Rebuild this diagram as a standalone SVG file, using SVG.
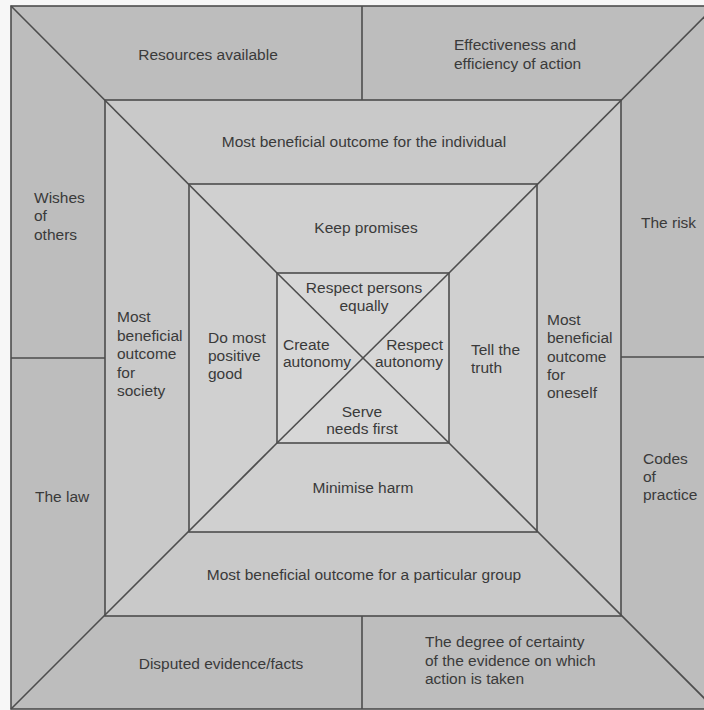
<svg xmlns="http://www.w3.org/2000/svg" width="704" height="710" viewBox="0 0 704 710">
<style>
.o{fill:#bdbdbd}
.m{fill:#c9c9c9}
.t{fill:#d0d0d0}
.i{fill:#d7d7d7}
text{font-family:"Liberation Sans",Arial,sans-serif;font-size:15.5px;fill:#3a3a3a}
.c{text-anchor:middle}
.r{text-anchor:end}
#lines line,#lines rect{stroke:#4d4d4d;stroke-width:1.6;fill:none}
</style>
<rect x="0" y="0" width="704" height="710" fill="#f7f7f7"/>
<g id="resources"><polygon class="o" points="11,6 362,6 362,100 105,100"/><text class="c" x="208" y="60">Resources available</text></g>
<g id="effectiveness"><polygon class="o" points="362,6 715,6 621,100 362,100"/><text x="454" y="50">Effectiveness and</text><text x="454" y="69">efficiency of action</text></g>
<g id="risk"><polygon class="o" points="715,6 715,357 621,357 621,100"/><text x="641" y="228">The risk</text></g>
<g id="codes"><polygon class="o" points="621,357 715,357 715,709 621,616"/><text x="643" y="464">Codes</text><text x="643" y="482">of</text><text x="643" y="500">practice</text></g>
<g id="certainty"><polygon class="o" points="362,616 621,616 715,709 362,709"/><text x="425" y="647">The degree of certainty</text><text x="425" y="666">of the evidence on which</text><text x="425" y="684">action is taken</text></g>
<g id="disputed"><polygon class="o" points="11,709 105,616 362,616 362,709"/><text class="c" x="221" y="669">Disputed evidence/facts</text></g>
<g id="law"><polygon class="o" points="11,358 105,358 105,616 11,709"/><text x="35" y="502">The law</text></g>
<g id="wishes"><polygon class="o" points="11,6 105,100 105,358 11,358"/><text x="34" y="203">Wishes</text><text x="34" y="221">of</text><text x="34" y="240">others</text></g>
<g id="individual"><polygon class="m" points="105,100 621,100 537,184 189,184"/><text class="c" x="364" y="147">Most beneficial outcome for the individual</text></g>
<g id="oneself"><polygon class="m" points="621,100 621,616 537,532 537,184"/><text x="547" y="325">Most</text><text x="547" y="343">beneficial</text><text x="547" y="362">outcome</text><text x="547" y="380">for</text><text x="547" y="398">oneself</text></g>
<g id="group"><polygon class="m" points="105,616 189,532 537,532 621,616"/><text class="c" x="364" y="580">Most beneficial outcome for a particular group</text></g>
<g id="society"><polygon class="m" points="105,100 189,184 189,532 105,616"/><text x="117" y="322">Most</text><text x="117" y="341">beneficial</text><text x="117" y="359">outcome</text><text x="117" y="378">for</text><text x="117" y="396">society</text></g>
<g id="promises"><polygon class="t" points="189,184 537,184 449,273 277,273"/><text class="c" x="366" y="233">Keep promises</text></g>
<g id="truth"><polygon class="t" points="537,184 537,532 449,443 449,273"/><text x="471" y="355">Tell the</text><text x="471" y="373">truth</text></g>
<g id="harm"><polygon class="t" points="189,532 277,443 449,443 537,532"/><text class="c" x="363" y="493">Minimise harm</text></g>
<g id="good"><polygon class="t" points="189,184 277,273 277,443 189,532"/><text x="208" y="343">Do most</text><text x="208" y="361">positive</text><text x="208" y="379">good</text></g>
<g id="equally"><polygon class="i" points="277,273 449,273 363,358"/><text class="c" x="364" y="293">Respect persons</text><text class="c" x="364" y="311">equally</text></g>
<g id="respect-autonomy"><polygon class="i" points="449,273 449,443 363,358"/><text class="r" x="443" y="350">Respect</text><text class="r" x="443" y="367">autonomy</text></g>
<g id="needs"><polygon class="i" points="277,443 449,443 363,358"/><text class="c" x="362" y="417">Serve</text><text class="c" x="362" y="434">needs first</text></g>
<g id="create-autonomy"><polygon class="i" points="277,273 277,443 363,358"/><text x="283" y="350">Create</text><text x="283" y="367">autonomy</text></g>
<g id="lines">
<rect x="11" y="6" width="704" height="703"/>
<rect x="105" y="100" width="516" height="516"/>
<rect x="189" y="184" width="348" height="348"/>
<rect x="277" y="273" width="172" height="170"/>
<line x1="11" y1="6" x2="277" y2="273"/>
<line x1="715" y1="6" x2="449" y2="273"/>
<line x1="11" y1="709" x2="277" y2="443"/>
<line x1="715" y1="709" x2="449" y2="443"/>
<line x1="277" y1="273" x2="449" y2="443"/>
<line x1="449" y1="273" x2="277" y2="443"/>
<line x1="362" y1="6" x2="362" y2="100"/>
<line x1="362" y1="616" x2="362" y2="709"/>
<line x1="11" y1="358" x2="105" y2="358"/>
<line x1="621" y1="357" x2="715" y2="357"/>
</g>
</svg>
